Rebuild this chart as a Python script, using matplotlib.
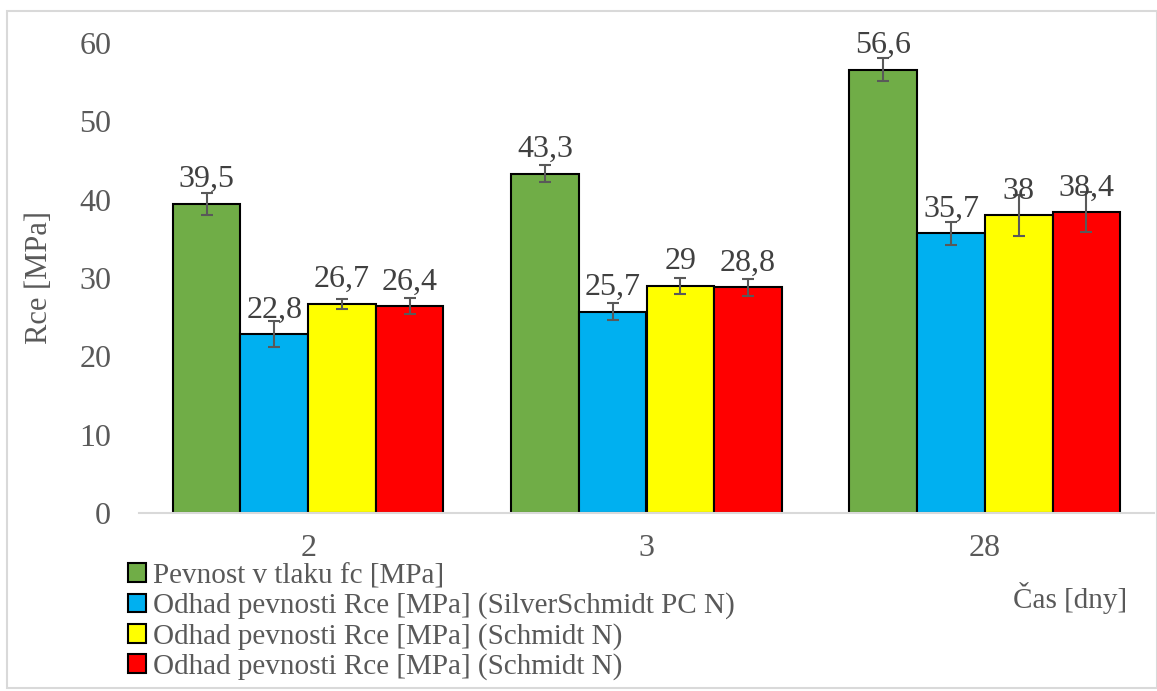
import matplotlib
matplotlib.use("Agg")
import matplotlib.pyplot as plt
import numpy as np
from matplotlib.patches import Rectangle

plt.rcParams['font.family'] = ['Liberation Serif', 'DejaVu Serif']

categories = ["2", "3", "28"]
series_names = [
    "Pevnost v tlaku fc [MPa]",
    "Odhad pevnosti Rce [MPa] (SilverSchmidt PC N)",
    "Odhad pevnosti Rce [MPa] (Schmidt N)",
    "Odhad pevnosti Rce [MPa] (Schmidt N)",
]
values_fc = [39.5, 43.3, 56.6]
values_silver = [22.8, 25.7, 35.7]
values_schmidt1 = [26.7, 29.0, 38.0]
values_schmidt2 = [26.4, 28.8, 38.4]
err_fc = [1.4, 1.1, 1.5]
err_silver = [1.65, 1.1, 1.45]
err_schmidt1 = [0.6, 1.0, 2.65]
err_schmidt2 = [1.0, 1.1, 2.55]
labels_fc = ["39,5", "43,3", "56,6"]
labels_silver = ["22,8", "25,7", "35,7"]
labels_schmidt1 = ["26,7", "29", "38"]
labels_schmidt2 = ["26,4", "28,8", "38,4"]
colors = ["#70AD47", "#00B0F0", "#FFFF00", "#FF0000"]

all_vals = [values_fc, values_silver, values_schmidt1, values_schmidt2]
all_errs = [err_fc, err_silver, err_schmidt1, err_schmidt2]
all_labels = [labels_fc, labels_silver, labels_schmidt1, labels_schmidt2]

fig = plt.figure(figsize=(11.57, 6.91), dpi=100)
ax = fig.add_axes([139/1157, 1-513/691, (1154-139)/1157, 470/691])

x = np.arange(len(categories))
w = 0.2
handles = []
for i, (vals, errs, labs, c) in enumerate(zip(all_vals, all_errs, all_labels, colors)):
    pos = x + (i - 1.5) * w
    b = ax.bar(pos, vals, width=w, color=c, edgecolor="black", linewidth=1.5,
               yerr=errs, error_kw=dict(ecolor="#595959", elinewidth=1.5, capsize=4.5, capthick=1.5),
               zorder=2)
    handles.append(b)
    for p, v, l in zip(pos, vals, labs):
        ax.annotate(l, (p, v), xytext=(0, 12), textcoords="offset points",
                    ha="center", va="baseline", fontsize=23, color="#404040", zorder=3)

ax.set_xlim(-0.5, 2.5)
ax.set_ylim(0, 60)
ax.set_yticks(range(0, 61, 10))
ax.set_xticks(x)
ax.set_xticklabels(categories)
ax.tick_params(axis="both", length=0, labelsize=23, labelcolor="#595959")
ax.tick_params(axis="y", pad=20)
ax.tick_params(axis="x", pad=15)
for s in ["top", "right", "left"]:
    ax.spines[s].set_visible(False)
ax.spines["bottom"].set_color("#D9D9D9")
ax.spines["bottom"].set_linewidth(1.5)
ax.set_ylabel("Rce [MPa]", fontsize=22, color="#595959", labelpad=18)

fig.text(1070/1157, 1-598/691, "Čas [dny]", fontsize=21, color="#595959", ha="center", va="center")

leg = fig.legend(handles, series_names, loc="upper left", bbox_to_anchor=(128/1157, 1-563/691),
                 frameon=False, fontsize=21, labelcolor="#595959", handlelength=0.6,
                 handleheight=0.6, handletextpad=0.25, labelspacing=0.12, borderpad=0, borderaxespad=0)
for h in leg.legend_handles:
    h.set_edgecolor("black")
    h.set_linewidth(1.5)

fig.patches.append(Rectangle((7/1157, 0.005), 1 - 7/1157, 1 - 11/691 - 0.005, transform=fig.transFigure,
                             fill=False, edgecolor="#D9D9D9", linewidth=1.5))

fig.savefig("out.png", dpi=100)
